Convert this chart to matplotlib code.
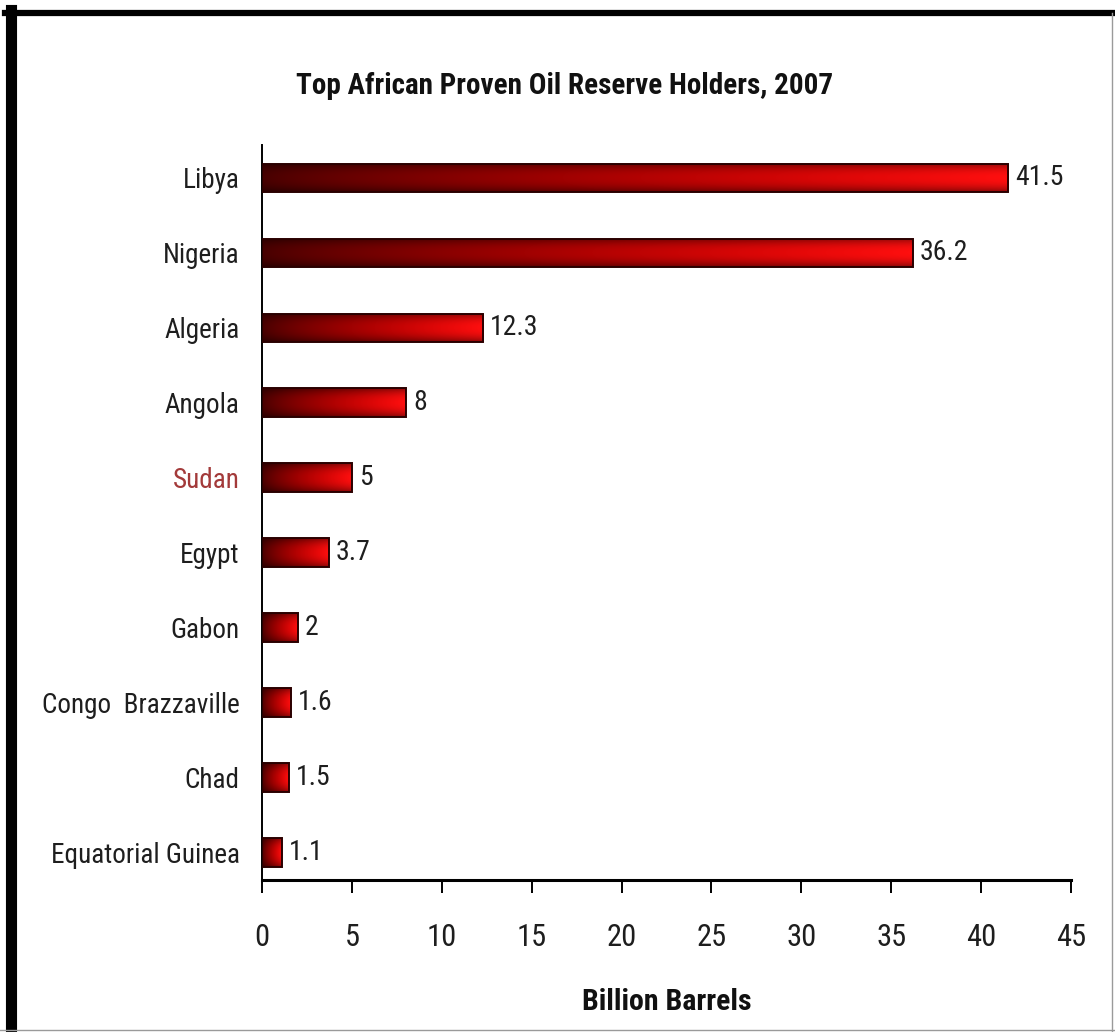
import matplotlib.pyplot as plt
import numpy as np
from matplotlib.lines import Line2D

# --- Data ---
countries = ["Libya", "Nigeria", "Algeria", "Angola", "Sudan", "Egypt",
             "Gabon", "Congo  Brazzaville", "Chad", "Equatorial Guinea"]
reserves = [41.5, 36.2, 12.3, 8, 5, 3.7, 2, 1.6, 1.5, 1.1]
value_labels = ["41.5", "36.2", "12.3", "8", "5", "3.7", "2", "1.6", "1.5", "1.1"]
x_ticks = [0, 5, 10, 15, 20, 25, 30, 35, 40, 45]

NARROW = ["Roboto Condensed", "Liberation Sans Narrow", "Liberation Sans", "DejaVu Sans"]
TEXT = "#1e1e1e"
SUDAN = "#a33a3a"

fig = plt.figure(figsize=(11.15, 10.32), dpi=100)
ax = fig.add_axes([0.235, 0.1473, 0.7255, 0.7122])

n = len(countries)
ypos = np.arange(n)[::-1]
bars = ax.barh(ypos, reserves, height=0.38, color="none",
               edgecolor="#2a0000", linewidth=1.4, zorder=3)

# horizontal dark->bright gradient with darker top/bottom edges
h = np.linspace(0, 1, 256)
v = np.linspace(-1, 1, 64)
prof = 1 - 0.45 * np.abs(v) ** 2.2
r = (0.28 + 0.72 * h ** 0.8)[None, :] * prof[:, None]
g = (0.00 + 0.06 * h ** 3)[None, :] * prof[:, None]
b = (0.00 + 0.06 * h ** 3)[None, :] * prof[:, None]
grad = np.dstack([r, g, b])

for bar in bars:
    x0, y0 = bar.get_x(), bar.get_y()
    im = ax.imshow(grad, extent=[x0, x0 + bar.get_width(), y0, y0 + bar.get_height()],
                   aspect="auto", origin="lower", zorder=2, interpolation="bilinear")
    im.set_clip_path(bar)

for y, val, lab in zip(ypos, reserves, value_labels):
    ax.text(val + 0.4, y, lab, va="center", ha="left", fontsize=20,
            family=NARROW, color=TEXT)

ax.set_xlim(0, 45)
ax.set_ylim(-0.37, 9.44)
ax.set_xticks(x_ticks)
ax.set_xticklabels([str(t) for t in x_ticks], family=NARROW, fontsize=22, color=TEXT)
ax.set_yticks(ypos)
ax.set_yticklabels(countries, family=NARROW, fontsize=19.5, color=TEXT)
ax.get_yticklabels()[countries.index("Sudan")].set_color(SUDAN)

ax.tick_params(axis="x", direction="out", length=9, width=1.4, pad=22)
ax.tick_params(axis="y", length=0, pad=16)
for s in ["top", "right"]:
    ax.spines[s].set_visible(False)
ax.spines["bottom"].set_linewidth(2.2)
ax.spines["left"].set_linewidth(1.4)

ax.set_xlabel("Billion Barrels", family=NARROW, fontsize=21.5, fontweight="heavy",
              color="#111111", labelpad=26)
fig.text(0.506, 0.917, "Top African Proven Oil Reserve Holders, 2007", ha="center",
         va="center", family=NARROW, fontsize=21, fontweight="heavy", color="#111111")

# frame around the picture
fig.add_artist(Line2D([10.5 / 1115, 10.5 / 1115], [0, 1 - 10 / 1032],
                      transform=fig.transFigure, color="black", linewidth=8))
fig.add_artist(Line2D([5 / 1115, 1], [1 - 13 / 1032, 1 - 13 / 1032],
                      transform=fig.transFigure, color="black", linewidth=4.5))
fig.add_artist(Line2D([1112 / 1115, 1112 / 1115], [0, 1 - 13 / 1032],
                      transform=fig.transFigure, color="#9a9a9a", linewidth=1))
fig.add_artist(Line2D([0, 1], [2.5 / 1032, 2.5 / 1032],
                      transform=fig.transFigure, color="#9a9a9a", linewidth=1))

fig.savefig("out.png", dpi=100)
